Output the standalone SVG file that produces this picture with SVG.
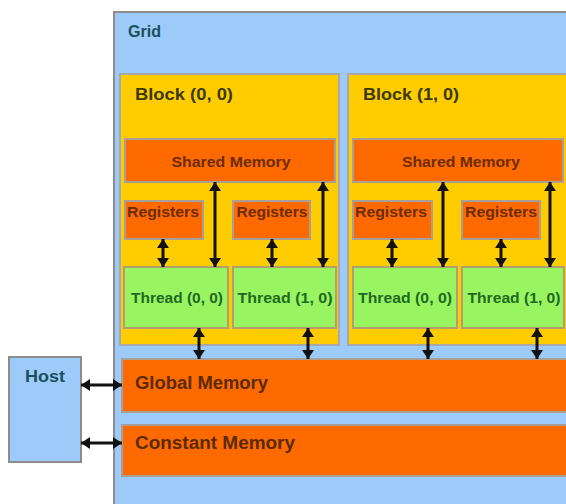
<svg xmlns="http://www.w3.org/2000/svg" width="566" height="504" viewBox="0 0 566 504">
<defs>
<marker id="ah" viewBox="0 0 10 10" refX="10" refY="5" markerWidth="9" markerHeight="12" markerUnits="userSpaceOnUse" orient="auto-start-reverse" preserveAspectRatio="none">
<path d="M0,0 L10,5 L0,10 z" fill="#111"/>
</marker>
<style>
.grid{fill:#9ccbf9;stroke:#8c8c8c;stroke-width:2}
.block{fill:#ffcc00;stroke:#a8a8a8;stroke-width:2}
.mem{fill:#ff6a00;stroke:#a8a098;stroke-width:2}
.thr{fill:#99f462;stroke:#b0a070;stroke-width:2}
.host{fill:#9ccbf9;stroke:#8c8c8c;stroke-width:2}
text{font-family:"Liberation Sans",Arial,sans-serif;font-weight:bold}
.tg{fill:#1b4f5f;font-size:17px}
.tb{fill:#3a3a00;font-size:17px}
.tm{fill:#6b2c00;font-size:15px}
.tt{fill:#1e6a1e;font-size:15px}
.tbig{fill:#5a2a00;font-size:18px}
.conn line{stroke:#111;stroke-width:3;marker-start:url(#ah);marker-end:url(#ah)}
</style>
</defs>
<g id="grid">
<rect class="grid" x="114" y="12" width="470" height="510"/>
<text class="tg" x="128" y="37" textLength="33" lengthAdjust="spacingAndGlyphs">Grid</text>
</g>
<g id="block00">
<rect class="block" x="120" y="74" width="219" height="271"/>
<text class="tb" x="135" y="100" textLength="98" lengthAdjust="spacingAndGlyphs">Block (0, 0)</text>
</g>
<g id="block10">
<rect class="block" x="348" y="74" width="230" height="271"/>
<text class="tb" x="363" y="100" textLength="96" lengthAdjust="spacingAndGlyphs">Block (1, 0)</text>
</g>
<g id="shared0">
<rect class="mem" x="125" y="139" width="210" height="43"/>
<text class="tm" x="231" y="167" text-anchor="middle" textLength="119" lengthAdjust="spacingAndGlyphs">Shared Memory</text>
</g>
<g id="shared1">
<rect class="mem" x="353" y="139" width="210" height="43"/>
<text class="tm" x="461" y="167" text-anchor="middle" textLength="118" lengthAdjust="spacingAndGlyphs">Shared Memory</text>
</g>
<g id="reg00">
<rect class="mem" x="125" y="201" width="78" height="38"/>
<text class="tm" x="163" y="217" text-anchor="middle" textLength="72" lengthAdjust="spacingAndGlyphs">Registers</text>
</g>
<g id="reg01">
<rect class="mem" x="233" y="201" width="77" height="38"/>
<text class="tm" x="272" y="217" text-anchor="middle" textLength="71" lengthAdjust="spacingAndGlyphs">Registers</text>
</g>
<g id="reg10">
<rect class="mem" x="353" y="201" width="79" height="38"/>
<text class="tm" x="391" y="217" text-anchor="middle" textLength="72" lengthAdjust="spacingAndGlyphs">Registers</text>
</g>
<g id="reg11">
<rect class="mem" x="462" y="201" width="78" height="38"/>
<text class="tm" x="501" y="217" text-anchor="middle" textLength="72" lengthAdjust="spacingAndGlyphs">Registers</text>
</g>
<g id="thread00">
<rect class="thr" x="124" y="267" width="104" height="61"/>
<text class="tt" x="177" y="303" text-anchor="middle" textLength="92" lengthAdjust="spacingAndGlyphs">Thread (0, 0)</text>
</g>
<g id="thread01">
<rect class="thr" x="233" y="267" width="103" height="61"/>
<text class="tt" x="285" y="303" text-anchor="middle" textLength="95" lengthAdjust="spacingAndGlyphs">Thread (1, 0)</text>
</g>
<g id="thread10">
<rect class="thr" x="353" y="267" width="104" height="61"/>
<text class="tt" x="405" y="303" text-anchor="middle" textLength="94" lengthAdjust="spacingAndGlyphs">Thread (0, 0)</text>
</g>
<g id="thread11">
<rect class="thr" x="462" y="267" width="102" height="61"/>
<text class="tt" x="514" y="303" text-anchor="middle" textLength="93" lengthAdjust="spacingAndGlyphs">Thread (1, 0)</text>
</g>
<g id="global">
<rect class="mem" x="122" y="359" width="460" height="53"/>
<text class="tbig" x="135" y="389" textLength="133" lengthAdjust="spacingAndGlyphs">Global Memory</text>
</g>
<g id="constant">
<rect class="mem" x="122" y="425" width="460" height="51"/>
<text class="tbig" x="135" y="449" textLength="160" lengthAdjust="spacingAndGlyphs">Constant Memory</text>
</g>
<g id="host">
<rect class="host" x="9" y="357" width="72" height="105"/>
<text class="tg" x="45" y="382" text-anchor="middle" textLength="40" lengthAdjust="spacingAndGlyphs">Host</text>
</g>
<g id="connectors" class="conn">
<line x1="163" y1="239" x2="163" y2="267"/>
<line x1="272" y1="239" x2="272" y2="267"/>
<line x1="392" y1="239" x2="392" y2="267"/>
<line x1="501" y1="239" x2="501" y2="267"/>
<line x1="215" y1="182" x2="215" y2="267"/>
<line x1="323" y1="182" x2="323" y2="267"/>
<line x1="443" y1="182" x2="443" y2="267"/>
<line x1="550" y1="182" x2="550" y2="267"/>
<line x1="199" y1="328" x2="199" y2="359"/>
<line x1="308" y1="328" x2="308" y2="359"/>
<line x1="428" y1="328" x2="428" y2="359"/>
<line x1="537" y1="328" x2="537" y2="359"/>
<line x1="81" y1="385" x2="122" y2="385"/>
<line x1="81" y1="443" x2="122" y2="443"/>
</g>
</svg>
